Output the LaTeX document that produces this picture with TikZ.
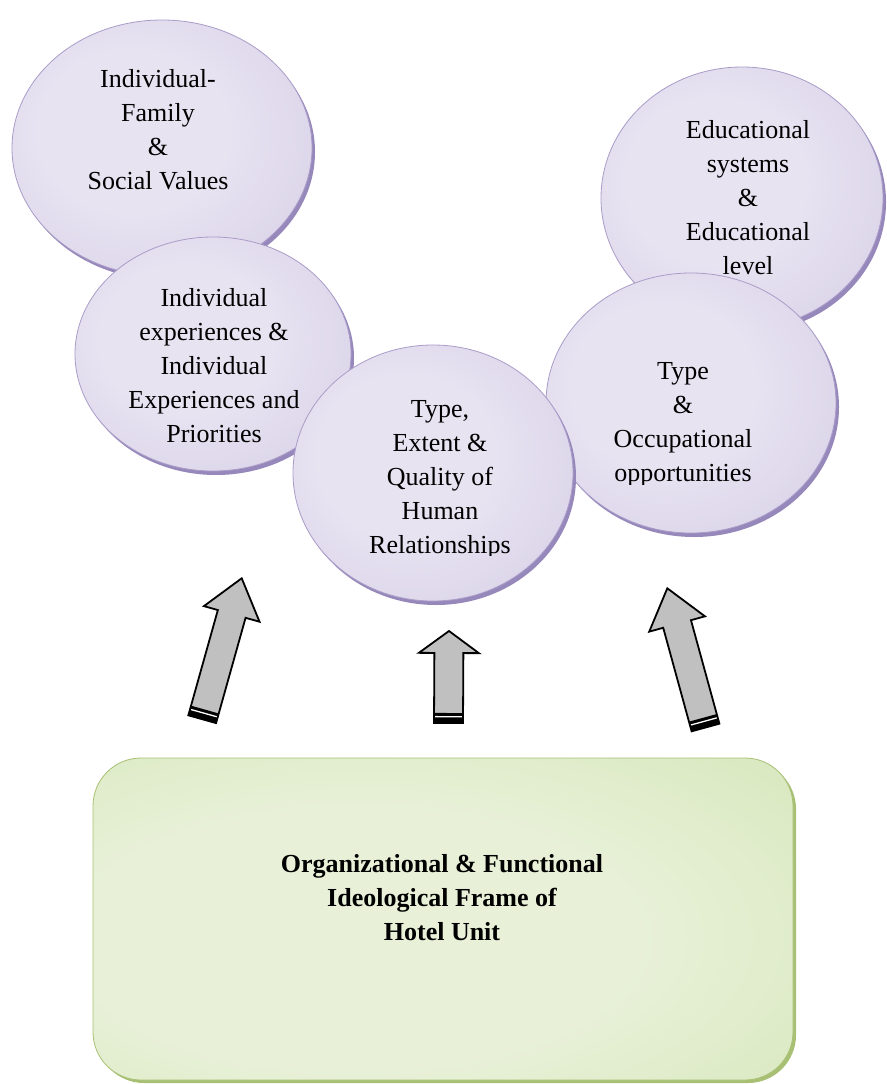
\documentclass[tikz,border=0pt]{standalone}
\usepackage{fontspec}
\setmainfont{Liberation Serif}
\usetikzlibrary{calc,shapes.geometric,shadows}
\definecolor{lavL}{RGB}{231,227,241}
\definecolor{lavM}{RGB}{215,207,231}
\definecolor{lavD}{RGB}{188,176,213}
\definecolor{lavRim}{RGB}{150,136,186}
\definecolor{lavEdge}{RGB}{170,156,200}
\definecolor{grL}{RGB}{232,241,216}
\definecolor{grM}{RGB}{215,231,188}
\definecolor{grD}{RGB}{196,216,150}
\definecolor{grRim}{RGB}{168,192,116}
\definecolor{arrowgray}{RGB}{192,192,192}
\pgfdeclareradialshading{lavshade}{\pgfpoint{-6bp}{4bp}}{color(0bp)=(lavL); color(16bp)=(lavL); color(38bp)=(lavM); color(52bp)=(lavD); color(80bp)=(lavD)}
\pgfdeclareradialshading{grshade}{\pgfpoint{-8bp}{-4bp}}{color(0bp)=(grL); color(20bp)=(grL); color(42bp)=(grM); color(58bp)=(grD); color(90bp)=(grD)}
\newcommand\blockarrow[5]{%
  \coordinate (#1-b) at ($(#2)!#5pt!(#1)$);
  \coordinate (#1-u) at ($(#1)!10pt!(#2)$);
  \coordinate (#1-w) at ($(#1)!6.3pt!(#2)$);
  \fill[arrowgray] ($(#1)!#3pt!90:(#2)$) -- ($(#1-b)!#3pt!-90:(#1)$) -- ($(#1-b)!#4pt!-90:(#1)$) -- (#2) -- ($(#1-b)!#4pt!90:(#1)$) -- ($(#1-b)!#3pt!90:(#1)$) -- ($(#1)!#3pt!-90:(#2)$) -- cycle;
  \fill[black] ($(#1)!#3pt!90:(#2)$) -- ($(#1-u)!#3pt!90:(#2)$) -- ($(#1-u)!#3pt!-90:(#2)$) -- ($(#1)!#3pt!-90:(#2)$) -- cycle;
  \draw[white, line width=1.3pt] ($(#1-w)!#3pt!90:(#2)$) -- ($(#1-w)!#3pt!-90:(#2)$);
  \draw[arrowline] ($(#1)!#3pt!90:(#2)$) -- ($(#1-b)!#3pt!-90:(#1)$) -- ($(#1-b)!#4pt!-90:(#1)$) -- (#2) -- ($(#1-b)!#4pt!90:(#1)$) -- ($(#1-b)!#3pt!90:(#1)$) -- ($(#1)!#3pt!-90:(#2)$) -- cycle;
}
\tikzset{
  bubble/.style={ellipse, inner sep=0pt, shade, shading=lavshade, draw=lavEdge, line width=0.8pt,
    drop shadow={shadow xshift=3pt, shadow yshift=-4pt, fill=lavRim, opacity=1}},
  bubbletext/.style={align=center, inner sep=0pt, font=\fontsize{26}{34}\selectfont},
  frametext/.style={align=center, inner sep=0pt, font=\bfseries\fontsize{26}{34}\selectfont},
  arrowline/.style={draw=black, line width=1.8pt, line join=miter},
}
\begin{document}
\begin{tikzpicture}[x=1pt,y=-1pt]
\useasboundingbox (0,0) rectangle (886,1084);
\fill[white] (0,0) rectangle (886,1084);

% circles
\node[bubble, minimum width=300pt, minimum height=256pt] (c1) at (162,148) {};
\node[bubbletext] (t1) at (158,130) {Individual-\\Family\\\&\\Social Values};
\node[bubble, minimum width=276pt, minimum height=234pt] (c2) at (213,354) {};
\node[bubbletext] (t2) at (214,366) {Individual\\experiences \&\\Individual\\Experiences and\\Priorities};
\node[bubble, minimum width=282pt, minimum height=262pt] (c5) at (742,198) {};
\node[bubbletext] (t5) at (748,198) {Educational\\systems\\\&\\Educational\\level};
\node[bubble, minimum width=290pt, minimum height=260pt] (c4) at (691,403) {};
\begin{scope}
  \clip (560,330) rectangle (820,484);
  \node[bubbletext] (t4) at (683,425) {Type\\\&\\Occupational\\opportunities};
\end{scope}
\node[bubble, minimum width=280pt, minimum height=256pt] (c3) at (433,473) {};
\begin{scope}
  \clip (320,380) rectangle (560,555);
  \node[bubbletext] (t3) at (440,480) {Type,\\Extent \&\\Quality of\\Human\\Relationships};
\end{scope}

% block arrows
\coordinate (tl) at (202.2,719.2); \coordinate (pl) at (241.7,578.3);
\coordinate (tm) at (448.5,723);   \coordinate (pm) at (449,631);
\coordinate (tr) at (705.5,727.5); \coordinate (pr) at (667.3,588.3);
\blockarrow{tl}{pl}{14.4}{28.9}{37}
\blockarrow{tm}{pm}{14.5}{30}{22}
\blockarrow{tr}{pr}{14.4}{28.9}{37}

% frame
\node[rounded corners=48pt, minimum width=700pt, minimum height=322pt, inner sep=0pt,
      shade, shading=grshade, draw=grRim, line width=0.8pt,
      drop shadow={shadow xshift=3pt, shadow yshift=-3pt, fill=grRim, opacity=1}] (frame) at (443,919) {};
\node[frametext] (ft) at (442,898) {Organizational \& Functional\\Ideological Frame of\\Hotel Unit};
\end{tikzpicture}
\end{document}
